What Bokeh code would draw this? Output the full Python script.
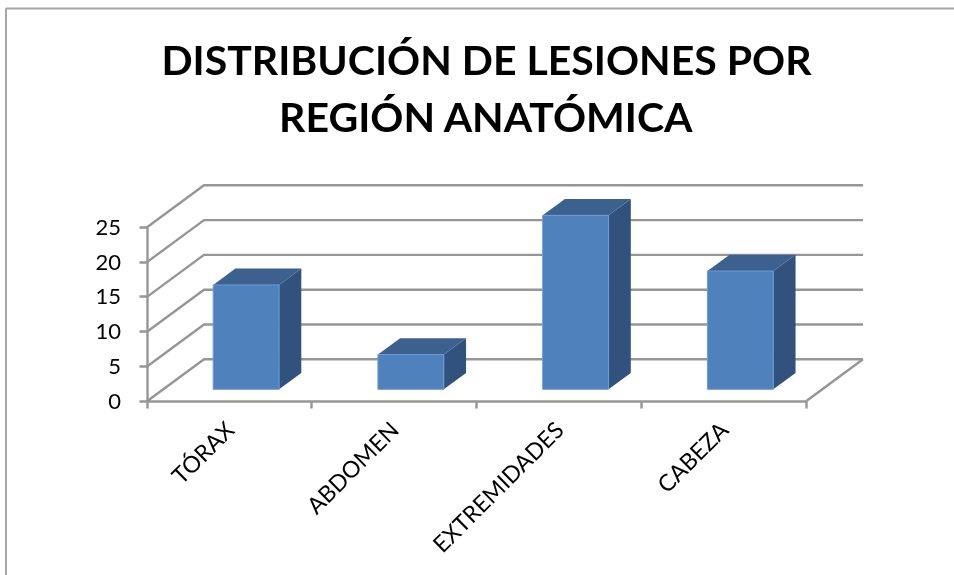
from bokeh.embed import file_html
from bokeh.resources import INLINE
from bokeh.plotting import figure
from bokeh.models import Range1d, LinearAxis, FixedTicker, Label, BoxAnnotation

categories = ["TÓRAX", "ABDOMEN", "EXTREMIDADES", "CABEZA"]
values = [15, 5, 25, 17]
y_ticks = [0, 5, 10, 15, 20, 25]
title_lines = ["DISTRIBUCIÓN DE LESIONES POR", "REGIÓN ANATÓMICA"]

W, H = 954, 575
X0, XSTEP = 146.5, 164.75    # pixel of category edge 0, pixels per category
Y0, YSTEP = 400.8, 6.96      # pixel of value 0, pixels per value unit
DX = 57 / XSTEP              # depth of the box in data units
DY = 42 / YSTEP
BAR_W = 0.40
BAR_NEAR = 0.285             # depth fraction of the bar's front
BAR_DEPTH = 0.39
BAR_SHIFT = 0.303            # left gap of the bar within category, data units

GRID = "#969696"
FRONT, SIDE, TOP = "#4f81bd", "#31527c", "#3c618f"
FONT = "Lato"

p = figure(width=W, height=H, output_backend="svg", toolbar_location=None,
           x_range=Range1d(-X0 / XSTEP, (W - X0) / XSTEP),
           y_range=Range1d((Y0 - H) / YSTEP, Y0 / YSTEP),
           x_axis_type=None, y_axis_type=None, min_border=0)
p.grid.visible = False
p.outline_line_color = None
p.background_fill_color = "white"
p.styles = {"position": "fixed", "left": "0px", "top": "0px"}

# walls and floor
n = len(categories)
xs_grid = [[0, DX, n + DX] for _ in y_ticks]
ys_grid = [[v, v + DY, v + DY] for v in y_ticks]
p.multi_line(xs_grid, ys_grid, line_color=GRID, line_width=2.4)
p.line([n, n + DX], [0, DY], line_color=GRID, line_width=2.4)

# bars
for i, v in enumerate(values):
    x1 = i + BAR_SHIFT + BAR_NEAR * DX
    x2 = x1 + BAR_W
    b = BAR_NEAR * DY
    t = b + v
    ox, oy = BAR_DEPTH * DX, BAR_DEPTH * DY
    p.patch([x2, x2 + ox, x2 + ox, x2], [b, b + oy, t + oy, t], fill_color=SIDE, line_color=None)
    p.patch([x1, x1 + ox, x2 + ox, x2], [t, t + oy, t + oy, t], fill_color=TOP, line_color=None)
    p.patch([x1, x2, x2, x1], [b, b, t, t], fill_color=FRONT, line_color="#6f9bd0", line_width=1)

# axes
yax = LinearAxis(fixed_location=0, ticker=FixedTicker(ticks=y_ticks), bounds=(0, 25))
yax.axis_line_color = GRID
yax.axis_line_width = 2.4
yax.major_tick_line_color = GRID
yax.major_tick_line_width = 2.4
yax.major_tick_in = 0
yax.major_tick_out = 8
yax.minor_tick_line_color = None
yax.major_label_text_font = FONT
yax.major_label_text_font_size = "22px"
yax.major_label_text_color = "black"
yax.major_label_standoff = 18
p.add_layout(yax, "left")

xax = LinearAxis(fixed_location=0, ticker=FixedTicker(ticks=list(range(n + 1))), bounds=(0, n))
xax.axis_line_color = GRID
xax.axis_line_width = 2.4
xax.major_tick_line_color = GRID
xax.major_tick_line_width = 2.4
xax.major_tick_in = 0
xax.major_tick_out = 7
xax.minor_tick_line_color = None
xax.major_label_text_font_size = "0px"
xax.major_label_text_color = None
p.add_layout(xax, "below")

centers = [i + 0.5 for i in range(n)]
lab = LinearAxis(fixed_location=0, ticker=FixedTicker(ticks=centers),
                 major_label_overrides={c: t for c, t in zip(centers, categories)})
lab.axis_line_color = None
lab.major_tick_line_color = None
lab.minor_tick_line_color = None
lab.major_label_orientation = 0.785
lab.major_label_text_font = FONT
lab.major_label_text_font_size = "23px"
lab.major_label_text_color = "black"
lab.major_label_standoff = 18
p.add_layout(lab, "below")

# title
for line, sy in zip(title_lines, [H - 59, H - 116]):
    p.add_layout(Label(x=486, y=sy, x_units="screen", y_units="screen", text=line,
                       text_font=FONT, text_font_style="bold", text_font_size="41px",
                       text_color="black", text_align="center", text_baseline="middle"))

# slide frame
p.add_layout(BoxAnnotation(left=5.5, right=W + 10, top=H - 8, bottom=-10,
                           left_units="screen", right_units="screen",
                           top_units="screen", bottom_units="screen",
                           fill_color=None, line_color="#a6a6a6", line_alpha=1.0, line_width=2))

open("out.html", "w").write(file_html(p, INLINE))
